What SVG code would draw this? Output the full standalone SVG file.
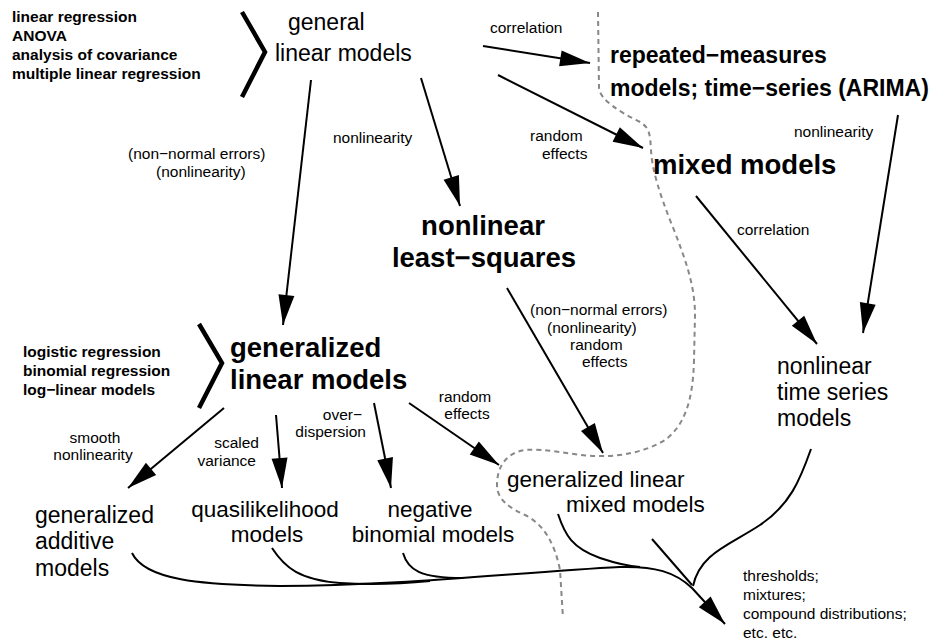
<svg xmlns="http://www.w3.org/2000/svg" width="932" height="644" viewBox="0 0 932 644">
<style>
text{font-family:"Liberation Sans",Arial,Helvetica,sans-serif;fill:#000}
.lst{font-size:15.5px;font-weight:bold}
.lbl{font-size:15.5px}
.nd{font-size:23px}
.nd2{font-size:22.5px}
.bnd{font-size:27.5px;font-weight:bold}
.rnd{font-size:23px;font-weight:bold}
.mid{text-anchor:middle}
.edge{fill:none;stroke:#000;stroke-width:2}
.arr{marker-end:url(#ah)}
.brk{fill:none;stroke:#000;stroke-width:4.5}
.div{fill:none;stroke:#888;stroke-width:2;stroke-dasharray:5 4}
</style>
<defs>
<marker id="ah" markerUnits="userSpaceOnUse" markerWidth="32" markerHeight="18" refX="30" refY="8" orient="auto" overflow="visible">
<path d="M0,0 L30,8 L0,16 Z" fill="#000"/>
</marker>
</defs>
<rect width="932" height="644" fill="#fff"/>

<path class="div" d="M598,12 L599,88 C600,100 620,112 640,122 C650,128 650,135 651,150 C652,170 660,195 672,225 C685,258 695,285 695,315 L694,360 C693,400 685,425 665,440 C645,452 620,457 595,456 C570,455 545,448 525,450 C505,453 497,468 497,485 C497,500 510,508 525,515 C545,525 555,545 560,570 L563,618"/>

<g id="general-linear-models">
<text class="lst" x="12" y="22">linear regression</text>
<text class="lst" x="12" y="41">ANOVA</text>
<text class="lst" x="12" y="60">analysis of covariance</text>
<text class="lst" x="12" y="79">multiple linear regression</text>
<polyline class="brk" points="242,12 265,52 242,97"/>
<text class="nd" x="288" y="30">general</text>
<text class="nd" x="275" y="61">linear models</text>
</g>

<g id="repeated-measures">
<text class="rnd" x="610" y="63">repeated−measures</text>
<text class="rnd" x="610" y="96">models; time−series (ARIMA)</text>
</g>

<g id="mixed-models">
<text class="bnd" x="653" y="174">mixed models</text>
</g>

<g id="nonlinear-least-squares">
<text class="bnd mid" x="483" y="235">nonlinear</text>
<text class="bnd mid" x="484" y="267">least−squares</text>
</g>

<g id="generalized-linear-models">
<text class="lst" x="23" y="357">logistic regression</text>
<text class="lst" x="23" y="376">binomial regression</text>
<text class="lst" x="23" y="395">log−linear models</text>
<polyline class="brk" points="199,324 222,363 199,408"/>
<text class="bnd" x="230" y="357">generalized</text>
<text class="bnd" x="230" y="389">linear models</text>
</g>

<g id="nonlinear-time-series">
<text class="nd" x="777" y="374">nonlinear</text>
<text class="nd" x="777" y="400">time series</text>
<text class="nd" x="777" y="426">models</text>
</g>

<g id="glmm">
<text class="nd2" x="507" y="487">generalized linear</text>
<text class="nd2" x="566" y="512">mixed models</text>
</g>

<g id="gam">
<text class="nd" x="35" y="523">generalized</text>
<text class="nd" x="35" y="549">additive</text>
<text class="nd" x="35" y="576">models</text>
</g>

<g id="quasilikelihood">
<text class="nd2 mid" x="265" y="517">quasilikelihood</text>
<text class="nd2 mid" x="267" y="542">models</text>
</g>

<g id="negative-binomial">
<text class="nd2 mid" x="430" y="517">negative</text>
<text class="nd2 mid" x="433" y="542">binomial models</text>
</g>

<g id="extensions">
<text class="lbl" x="743" y="581">thresholds;</text>
<text class="lbl" x="743" y="600">mixtures;</text>
<text class="lbl" x="743" y="619">compound distributions;</text>
<text class="lbl" x="743" y="638">etc. etc.</text>
</g>

<g id="connectors">
<line class="edge arr" x1="311" y1="80" x2="283" y2="325"/>
<line class="edge arr" x1="421" y1="78" x2="460" y2="206"/>
<line class="edge arr" x1="483" y1="46" x2="590" y2="63"/>
<line class="edge arr" x1="498" y1="75" x2="643" y2="148"/>
<line class="edge arr" x1="898" y1="115" x2="863" y2="333"/>
<line class="edge arr" x1="696" y1="196" x2="817" y2="344"/>
<line class="edge arr" x1="507" y1="288" x2="603" y2="453"/>
<line class="edge arr" x1="224" y1="408" x2="128" y2="488"/>
<line class="edge arr" x1="276" y1="415" x2="282" y2="488"/>
<line class="edge arr" x1="374" y1="403" x2="391" y2="488"/>
<line class="edge arr" x1="409" y1="403" x2="499" y2="465"/>
<path class="edge arr" d="M132,553 C145,580 200,585 280,586 C400,586 520,572 620,567 C655,566 675,572 692,588 L725,624"/>
<path class="edge" d="M272,548 C285,568 300,580 340,583 C370,585 400,584 430,581"/>
<path class="edge" d="M403,553 C408,570 420,578 463,578"/>
<path class="edge" d="M558,514 C565,535 572,548 600,558 C615,563 625,566 640,567"/>
<path class="edge" d="M652,539 L692,585"/>
<path class="edge" d="M811,449 C800,480 790,505 760,525 C730,545 700,553 693,586"/>
<text class="lbl" x="490" y="33">correlation</text>
<text class="lbl" x="333" y="143">nonlinearity</text>
<text class="lbl" x="530" y="141">random</text>
<text class="lbl" x="542" y="159">effects</text>
<text class="lbl" x="794" y="137">nonlinearity</text>
<text class="lbl" x="128" y="159">(non−normal errors)</text>
<text class="lbl" x="156" y="177">(nonlinearity)</text>
<text class="lbl" x="737" y="235">correlation</text>
<text class="lbl" x="530" y="315">(non−normal errors)</text>
<text class="lbl" x="547" y="333">(nonlinearity)</text>
<text class="lbl" x="570" y="350">random</text>
<text class="lbl" x="582" y="367">effects</text>
<text class="lbl mid" x="465" y="402">random</text>
<text class="lbl mid" x="467" y="419">effects</text>
<text class="lbl" x="362" y="420" text-anchor="end">over−</text>
<text class="lbl" x="366" y="437" text-anchor="end">dispersion</text>
<text class="lbl" x="259" y="448" text-anchor="end">scaled</text>
<text class="lbl" x="256" y="466" text-anchor="end">variance</text>
<text class="lbl mid" x="95" y="443">smooth</text>
<text class="lbl mid" x="93" y="460">nonlinearity</text>
</g>
</svg>
